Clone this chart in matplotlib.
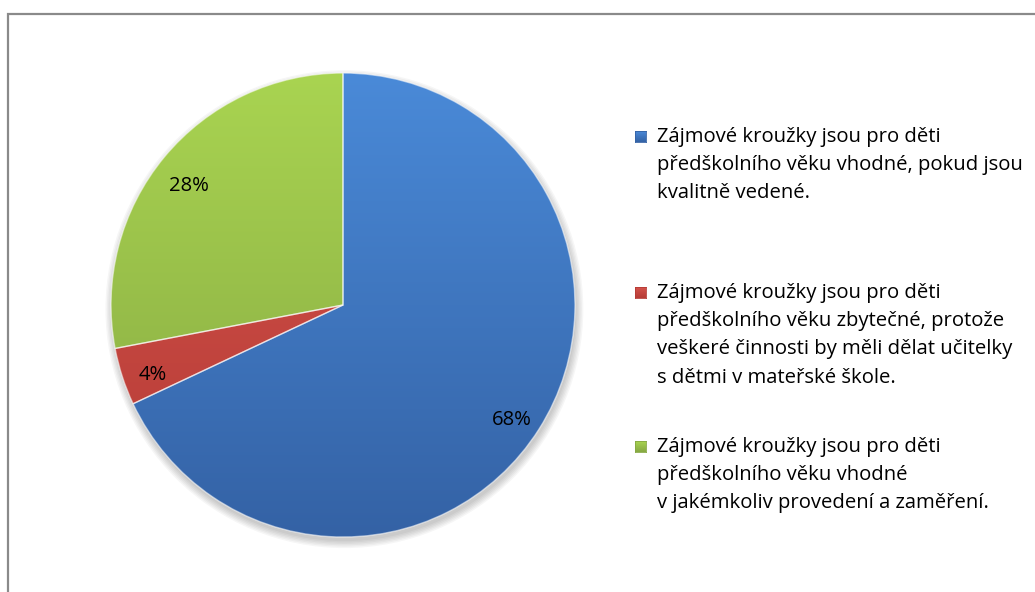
import matplotlib
matplotlib.use('Agg')
import matplotlib.pyplot as plt
import matplotlib.transforms as mtransforms
import numpy as np
from matplotlib.colors import LinearSegmentedColormap
from matplotlib.patches import Rectangle, Circle

# ---- data ----
categories = [
    "Zájmové kroužky jsou pro děti\npředškolního věku vhodné, pokud jsou\nkvalitně vedené.",
    "Zájmové kroužky jsou pro děti\npředškolního věku zbytečné, protože\nveškeré činnosti by měli dělat učitelky\ns dětmi v mateřské škole.",
    "Zájmové kroužky jsou pro děti\npředškolního věku vhodné\nv jakémkoliv provedení a zaměření.",
]
values = [68, 4, 28]
colors_top = ['#4a8ad8', '#d5534c', '#a9d451']
colors_bottom = ['#3462a5', '#b53b35', '#86a842']
colors_mid = ['#4079c4', '#c74843', '#98bd4b']

W, H = 1035, 592
FONT = 'Open Sans'
FS = 14.6
fig = plt.figure(figsize=(W / 100, H / 100), dpi=100)
fig.patch.set_facecolor('white')

# outer frame (only top & left visible in reference)
fig.patches.append(Rectangle((8 / W, -0.2), 1.5, 1.2 - 14 / H, transform=fig.transFigure,
                             fill=False, edgecolor='#8a8a8a', linewidth=1.6))

# pie axes: center (343,305) px, radius 232 px
cx, cy, r = 343, 305, 232
ax = fig.add_axes([(cx - r) / W, (H - cy - r) / H, 2 * r / W, 2 * r / H])

# soft shadow
for i in range(6):
    ax.add_patch(Circle((0.006, -0.018), 1.0 + 0.006 * i, facecolor='black',
                        alpha=0.035, edgecolor='none', clip_on=False, zorder=0))

wedges, texts, autotexts = ax.pie(
    values, startangle=90, counterclock=False, colors=colors_mid,
    autopct=lambda p: f'{p:.0f}%', pctdistance=0.86,
    wedgeprops=dict(edgecolor=(1, 1, 1, 0.55), linewidth=1.0),
    textprops=dict(fontsize=FS, family=FONT, color='black'))

shift = mtransforms.offset_copy(ax.transData, fig=fig, x=0, y=-8, units='dots')
for t in autotexts:
    t.set_transform(shift)

grad = np.linspace(1, 0, 256).reshape(-1, 1)
for w, ct, cb in zip(wedges, colors_top, colors_bottom):
    cmap = LinearSegmentedColormap.from_list('g', [cb, ct])
    im = ax.imshow(grad, cmap=cmap, extent=[-1, 1, -1, 1], origin='upper',
                   aspect='auto', zorder=1.5, interpolation='bilinear')
    im.set_clip_path(w)
    w.set_facecolor('none')
    w.set_zorder(2)

ax.set_xlim(-1, 1)
ax.set_ylim(-1, 1)
ax.set_aspect('auto')
ax.axis('off')

# legend (manual layout to match reference)
first_baselines = [142, 298, 452]
pitch = 28.2
marker_x0, marker_size = 635, 11
for lab, ct, cb, b0 in zip(categories, colors_top, colors_bottom, first_baselines):
    lines = lab.split('\n')
    for k, line in enumerate(lines):
        y = b0 + k * pitch
        fig.text(657 / W, 1 - y / H, line, fontsize=FS, family=FONT,
                 va='baseline', ha='left', color='black')
    # marker with gradient
    mx0 = marker_x0 / W
    my0 = 1 - b0 / H
    cmap = LinearSegmentedColormap.from_list('m', [cb, ct])
    max_ = fig.add_axes([mx0, my0, marker_size / W, marker_size / H])
    max_.imshow(grad, cmap=cmap, aspect='auto', extent=[0, 1, 0, 1])
    max_.set_xticks([]); max_.set_yticks([])
    for s in max_.spines.values():
        s.set_edgecolor(cb); s.set_linewidth(0.6)

fig.savefig('out.png', dpi=100, facecolor='white')
